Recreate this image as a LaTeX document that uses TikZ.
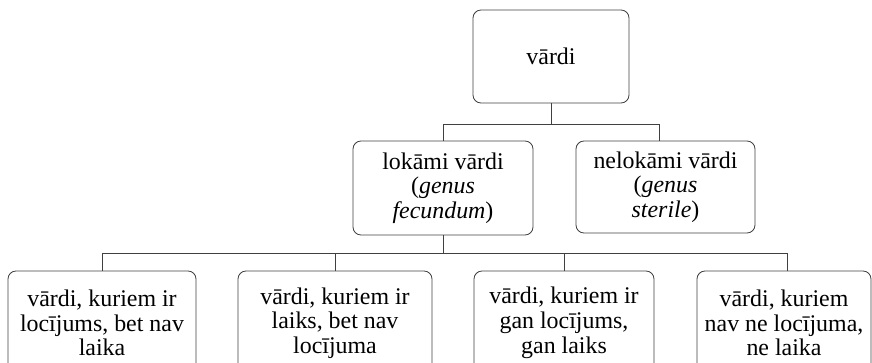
\documentclass[tikz,border=0pt]{standalone}
\usepackage{fontspec}
\setmainfont{Liberation Serif}
\definecolor{myGrey}{RGB}{64, 64, 64}

\begin{document}
\begin{tikzpicture}[
		box/.style={draw=myGrey, line width=0.6pt, rounded corners=0.2cm, align=center, minimum height=2.35cm, font=\fontsize{17}{17.6}\selectfont},
		link/.style={draw=myGrey, line width=0.6pt}
	]
				\clip (0,0) rectangle (21.8,-9.05);
				\draw (13.775,-1.4125) node[box, minimum width=3.9cm, minimum height=2.325cm] (V) {vārdi};
				\draw (11.075,-4.7) node[box, minimum width=4.5cm] (L) {lokāmi vārdi\\(\textit{genus}\\\textit{fecundum})};
				\draw (16.6375,-4.675) node[box, minimum width=4.475cm, minimum height=2.3cm] (N) {nelokāmi vārdi\\(\textit{genus}\\\textit{sterile})};
				\draw (2.55,-8.075) node[box, minimum width=4.7cm, minimum height=2.6cm] (B1) {vārdi, kuriem ir\\locījums, bet nav\\laika};
				\draw (8.375,-8.075) node[box, minimum width=4.85cm, minimum height=2.6cm] (B2) {vārdi, kuriem ir\\laiks, bet nav\\locījuma};
				\draw (14.1,-8.075) node[box, minimum width=4.5cm, minimum height=2.6cm] (B3) {vārdi, kuriem ir\\gan locījums,\\gan laiks};
				\draw (19.6,-8.075) node[box, minimum width=4.35cm, minimum height=2.6cm] (B4) {vārdi, kuriem\\nav ne locījuma,\\ne laika};

				\draw[link] (V.south) -- ++(0,-0.525) coordinate (bus1);
				\draw[link] (bus1) -| (L.north);
				\draw[link] (bus1) -| ([xshift=-0.14cm]N.north);

				\draw[link] (L.south) -- ++(0,-0.45) coordinate (bus2);
				\draw[link] (bus2) -| (B1.north);
				\draw[link] (bus2) -| (B2.north);
				\draw[link] (bus2) -| (B3.north);
				\draw[link] (bus2) -| ([xshift=0.075cm]B4.north);
			\end{tikzpicture}
\end{document}
